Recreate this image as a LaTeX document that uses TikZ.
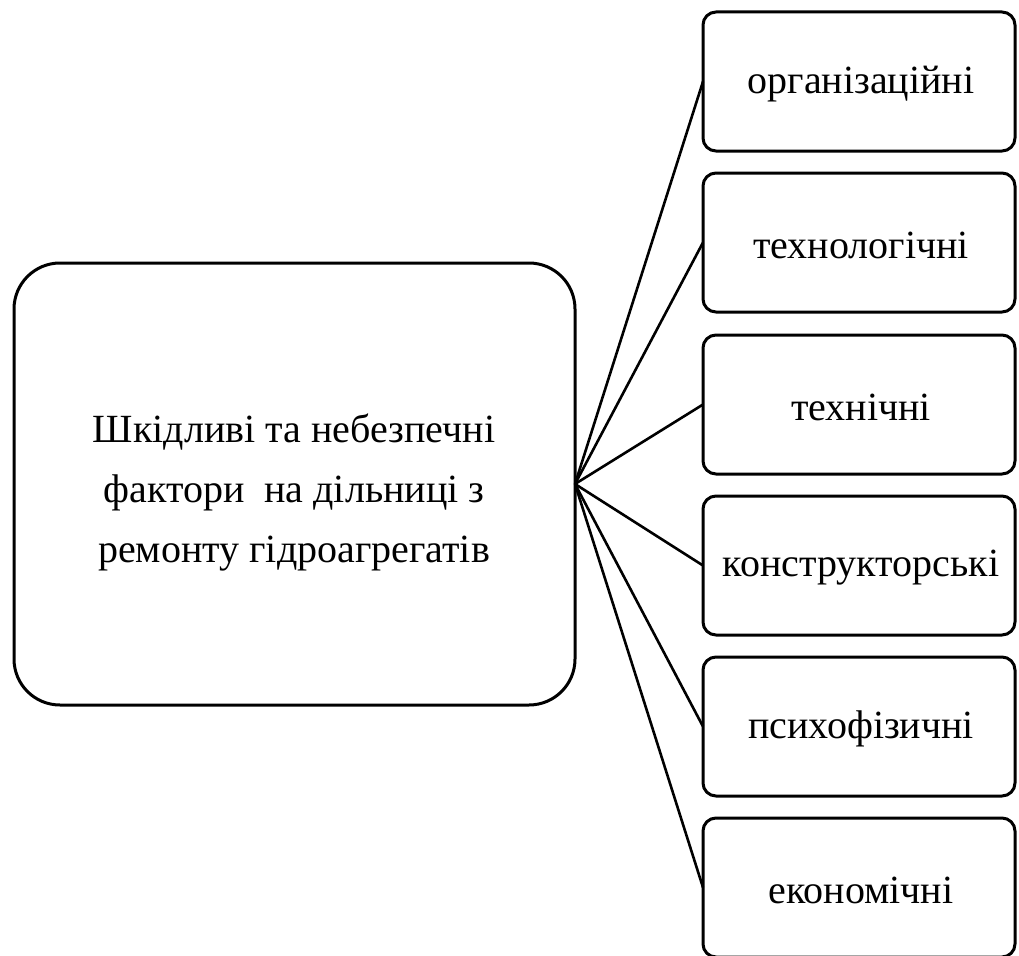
\documentclass[tikz,border=0pt]{standalone}
\usepackage{fontspec}
\setmainfont{Liberation Serif}
\begin{document}
\begin{tikzpicture}[x=1pt,y=-1pt,
  line width=3pt,
  bigbox/.style={draw, rounded corners=46pt, inner sep=0pt},
  smallbox/.style={draw, rounded corners=13pt, inner sep=0pt},
  lbl/.style={font=\fontsize{40}{60}\selectfont, align=center}]
\useasboundingbox (0,0) rectangle (1019,955);
\draw[bigbox] (14,263) rectangle (575,705);
\coordinate (hub) at (575,484);
\node[lbl] (main) at (294,492) {Шкідливі та небезпечні\\фактори~ на дільниці з\\ремонту гідроагрегатів};
\foreach \i/\t/\txt in {1/12/організаційні,2/173/технологічні,3/335/технічні,4/496/конструкторські,5/657/психофізичні,6/818/економічні}{
  \draw[smallbox] (703,\t) rectangle (1015,\t+139);
  \coordinate (b\i) at (703,\t+69.5);
  \node[lbl] (t\i) at (861,\t+72) {\txt};
  \draw[line width=2.6pt] (hub) -- (b\i);
}
\end{tikzpicture}
\end{document}
